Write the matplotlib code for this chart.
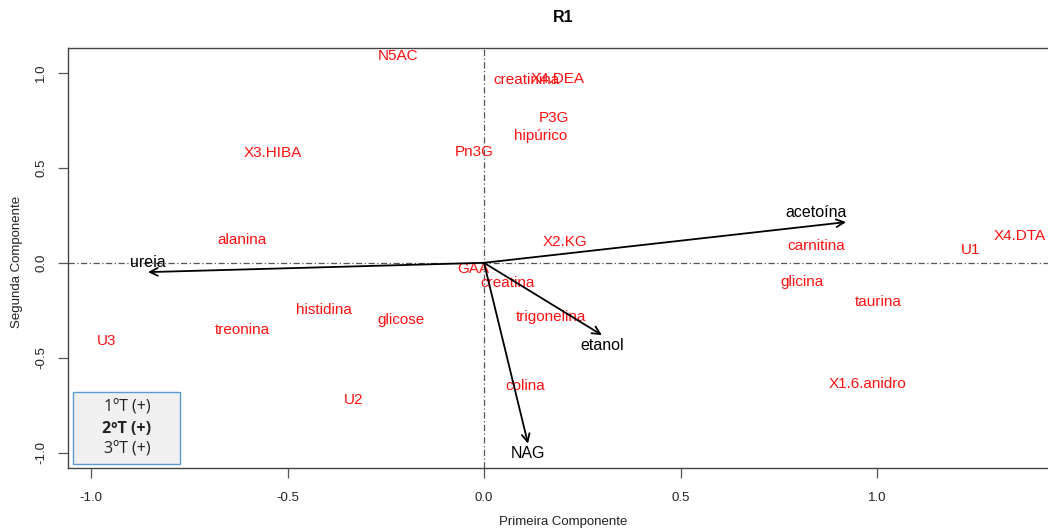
import matplotlib
matplotlib.use("Agg")
import matplotlib.pyplot as plt
from matplotlib.patches import Rectangle

# ---- data ----
point_labels = ["N5AC", "creatinina", "X4.DEA", "P3G", "hipúrico", "X3.HIBA", "Pn3G",
                "alanina", "X2.KG", "carnitina", "U1", "X4.DTA", "GAA", "creatina",
                "glicina", "taurina", "histidina", "glicose", "trigonelina", "treonina",
                "U3", "colina", "X1.6.anidro", "U2"]
point_x = [-0.219, 0.109, 0.188, 0.178, 0.145, -0.537, -0.025,
           -0.616, 0.206, 0.845, 1.237, 1.364, -0.028, 0.061,
           0.809, 1.003, -0.407, -0.211, 0.170, -0.616,
           -0.959, 0.104, 0.977, -0.331]
point_y = [1.090, 0.960, 0.966, 0.761, 0.666, 0.577, 0.583,
           0.120, 0.109, 0.088, 0.067, 0.141, -0.033, -0.106,
           -0.101, -0.206, -0.248, -0.301, -0.286, -0.353,
           -0.411, -0.648, -0.637, -0.721]

arrow_names = ["acetoína", "ureia", "etanol", "NAG"]
arrow_x = [0.921, -0.855, 0.300, 0.112]
arrow_y = [0.214, -0.049, -0.380, -0.951]
arrow_label_x = [0.845, -0.855, 0.300, 0.112]
arrow_label_y = [0.267, 0.004, -0.433, -1.002]

x_ticks = [-1.0, -0.5, 0.0, 0.5, 1.0]
y_ticks = [-1.0, -0.5, 0.0, 0.5, 1.0]
legend_items = ["1ºT (+)", "2ºT (+)", "3ºT (+)"]
legend_bold = [False, True, False]

title = "R1"
xlabel = "Primeira Componente"
ylabel = "Segunda Componente"

# ---- figure ----
W, H = 1048, 530
fig = plt.figure(figsize=(W / 100, H / 100), dpi=100)
L, R, T, B = 68, 1058, 48, 468
ax = fig.add_axes([L / W, 1 - B / H, (R - L) / W, (B - T) / H])

# pixel -> data mapping
x0px, xunit = 484, 393.0
y0px, yunit = 262.8, 190.15
ax.set_xlim((L - x0px) / xunit, (R - x0px) / xunit)
ax.set_ylim((y0px - B) / yunit, (y0px - T) / yunit)

narrow = ["Liberation Sans Narrow", "Liberation Sans", "DejaVu Sans"]
arial = ["Liberation Sans", "DejaVu Sans"]

for s in ax.spines.values():
    s.set_color("#444444")
    s.set_linewidth(1.0)

ax.set_xticks(x_ticks)
ax.set_yticks(y_ticks)
ax.set_xticklabels([f"{v:.1f}" for v in x_ticks], family=narrow, fontsize=9.5, color="#222222")
ax.set_yticklabels([f"{v:.1f}" for v in y_ticks], family=narrow, fontsize=9.5, color="#222222",
                   rotation=90, va="center")
ax.tick_params(axis="both", length=7, width=0.9, color="#555555", direction="out")
ax.tick_params(axis="x", pad=10)
ax.tick_params(axis="y", pad=8)

# reference lines
ax.axhline(0, color="#555555", lw=0.9, ls="-.", dashes=(5, 2, 1, 2))
ax.axvline(0, color="#555555", lw=0.9, ls="-.", dashes=(5, 2, 1, 2))

# point labels
for lab, x, y in zip(point_labels, point_x, point_y):
    ax.text(x, y, lab, color="#ff1010", fontsize=11, family=arial, ha="center", va="center")

# arrows
for name, x, y, lx, ly in zip(arrow_names, arrow_x, arrow_y, arrow_label_x, arrow_label_y):
    ax.annotate("", xy=(x, y), xytext=(0, 0),
                arrowprops=dict(arrowstyle="->", color="black", lw=1.3,
                                mutation_scale=14, shrinkA=0, shrinkB=0))
    ax.text(lx, ly, name, color="black", fontsize=11.5, family=arial, ha="center", va="center")

# legend box (figure pixel coords)
lx0, ly0, lx1, ly1 = 73, 392, 180, 464
box = Rectangle((lx0 / W, 1 - ly1 / H), (lx1 - lx0) / W, (ly1 - ly0) / H,
                transform=fig.transFigure, facecolor="#f0f0f0", edgecolor="#5b9bd5",
                lw=1.0, zorder=5)
fig.patches.append(box)
for i, (item, bold) in enumerate(zip(legend_items, legend_bold)):
    fig.text(127 / W, 1 - (408 + 21 * i) / H, item, ha="center", va="center",
             fontsize=11.5, family=["Open Sans", "DejaVu Sans"],
             fontweight="bold" if bold else "normal", color="#222222", zorder=6)

fig.text(563 / W, 1 - 18 / H, title, ha="center", va="center", fontsize=11.5,
         fontweight="bold", family=arial)
fig.text(563 / W, 1 - 522 / H, xlabel, ha="center", va="center", fontsize=9.5,
         family=narrow, color="#222222")
fig.text(17 / W, 1 - 262 / H, ylabel, ha="center", va="center", fontsize=9.5,
         family=narrow, rotation=90, color="#222222")

fig.savefig("out.png", dpi=100)
